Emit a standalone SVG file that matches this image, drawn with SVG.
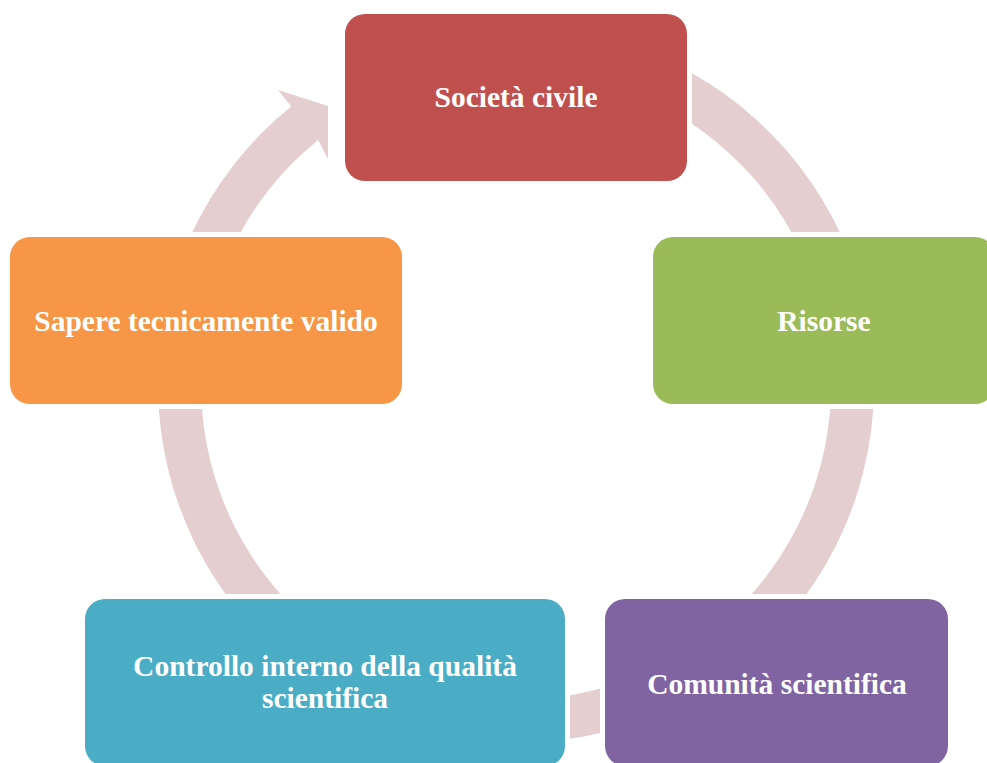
<svg xmlns="http://www.w3.org/2000/svg" width="987" height="763" viewBox="0 0 987 763">
<style>
.box{stroke:#FFFFFF;stroke-width:10;paint-order:stroke}
.lbl{font-family:"Liberation Serif","Times New Roman",serif;font-weight:bold;font-size:29.5px;fill:#FFFFFF;text-anchor:middle}
.ring{fill:#E5CECF;stroke:none}
</style>
<rect x="0" y="0" width="987" height="763" fill="#FFFFFF"/>
<g id="connectors">
<path class="ring" d="M578.17,32.44 A358,358 0 1 1 291.2,106.4 L278,90 L328,106 L328,159 L318.2,139.9 A315,315 0 1 0 570.70,74.79 Z"/>
</g>
<g id="node-societa">
<rect class="box" x="345" y="14" width="342" height="167" rx="20" fill="#C0504D"/>
<text class="lbl" x="516" y="107">Società civile</text>
</g>
<g id="node-risorse">
<rect class="box" x="653" y="237" width="342" height="167" rx="20" fill="#9BBB59"/>
<text class="lbl" x="824" y="331">Risorse</text>
</g>
<g id="node-comunita">
<rect class="box" x="605" y="599" width="343" height="167" rx="20" fill="#8064A2"/>
<text class="lbl" x="777" y="694">Comunità scientifica</text>
</g>
<g id="node-controllo">
<rect class="box" x="85" y="599" width="480" height="167" rx="20" fill="#4BACC6"/>
<text class="lbl" x="325" y="676">Controllo interno della qualità</text>
<text class="lbl" x="325" y="708">scientifica</text>
</g>
<g id="node-sapere">
<rect class="box" x="10" y="237" width="392" height="167" rx="20" fill="#F79646"/>
<text class="lbl" x="206" y="331">Sapere tecnicamente valido</text>
</g>
</svg>
